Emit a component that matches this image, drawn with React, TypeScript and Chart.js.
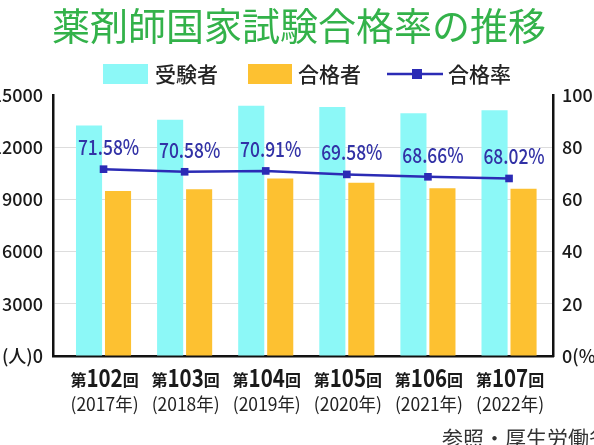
import React, { useEffect, useRef } from "react";
import { Chart, registerables } from "chart.js";

Chart.register(...registerables);

const roundLabels = ["第102回", "第103回", "第104回", "第105回", "第106回", "第107回"];
const yearLabels = ["(2017年)", "(2018年)", "(2019年)", "(2020年)", "(2021年)", "(2022年)"];
const examinees = [13243, 13579, 14376, 14311, 13958, 14124];
const passers = [9479, 9584, 10194, 9958, 9634, 9607];
const passRates = [71.58, 70.58, 70.91, 69.58, 68.66, 68.02];
const leftTicks = [0, 3000, 6000, 9000, 12000, 15000];
const rightTicks = [0, 20, 40, 60, 80, 100];
const seriesNames = ["受験者", "合格者", "合格率"];
const titleText = "薬剤師国家試験合格率の推移";
const sourceText = "参照・厚生労働省";

const OFF = 20; // canvas is shifted left by this many px
const CW = 644;
const CH = 445;
const FONT = '"Noto Sans CJK JP", "Noto Sans", sans-serif';

const CYAN = "#8cf8f7";
const ORANGE = "#fdc131";
const LINE = "#2b2bb5";
const LABEL = "#3232a6";

const drawPlugin = {
  id: "customDraw",
  afterDatasetsDraw(chart: any) {
    const ctx = chart.ctx;
    const meta = chart.getDatasetMeta(2);
    ctx.save();
    ctx.fillStyle = LABEL;
    ctx.font = `500 21px ${FONT}`;
    ctx.textAlign = "center";
    ctx.textBaseline = "middle";
    meta.data.forEach((pt: any, i: number) => {
      const t = passRates[i].toFixed(2) + "%";
      ctx.save();
      ctx.translate(pt.x + 5, pt.y - 22);
      ctx.scale(0.83, 1);
      ctx.fillText(t, 0, 0);
      ctx.restore();
    });
    ctx.restore();
  },
  afterDraw(chart: any) {
    const ctx = chart.ctx;
    const xs = chart.scales.x;
    ctx.save();
    // title
    ctx.fillStyle = "#33b24a";
    ctx.font = `38px ${FONT}`;
    ctx.textAlign = "center";
    ctx.textBaseline = "middle";
    ctx.fillText(titleText, 299 + OFF, 26);

    // legend
    const ly = 74;
    ctx.textAlign = "left";
    ctx.font = `500 21px ${FONT}`;
    ctx.fillStyle = CYAN;
    ctx.fillRect(103 + OFF, 64, 45, 20);
    ctx.fillStyle = "#222";
    ctx.fillText(seriesNames[0], 155 + OFF, ly);
    ctx.fillStyle = ORANGE;
    ctx.fillRect(248 + OFF, 64, 44, 20);
    ctx.fillStyle = "#222";
    ctx.fillText(seriesNames[1], 298 + OFF, ly);
    ctx.strokeStyle = LINE;
    ctx.lineWidth = 2.5;
    ctx.beginPath();
    ctx.moveTo(387 + OFF, ly);
    ctx.lineTo(443 + OFF, ly);
    ctx.stroke();
    ctx.fillStyle = LINE;
    ctx.fillRect(412 + OFF, ly - 5, 10, 10);
    ctx.fillStyle = "#222";
    ctx.fillText(seriesNames[2], 448 + OFF, ly);

    // x labels
    roundLabels.forEach((lab, i) => {
      const cx = xs.getPixelForValue(i) + 1;
      const a = lab.slice(0, 1);
      const b = lab.slice(1, lab.length - 1);
      const c = lab.slice(lab.length - 1);
      const small = `bold 16px ${FONT}`;
      const big = `bold 25px ${FONT}`;
      const sx = 0.82;
      ctx.font = small;
      const wa = ctx.measureText(a).width;
      const wc = ctx.measureText(c).width;
      ctx.font = big;
      const wb = ctx.measureText(b).width * sx;
      const total = wa + wb + wc;
      let x = cx - total / 2;
      const by = 387;
      ctx.fillStyle = "#1a1a1a";
      ctx.textBaseline = "alphabetic";
      ctx.textAlign = "left";
      ctx.font = small;
      ctx.fillText(a, x, by - 1);
      x += wa;
      ctx.save();
      ctx.translate(x, by);
      ctx.scale(sx, 1);
      ctx.font = big;
      ctx.fillText(b, 0, 0);
      ctx.restore();
      x += wb;
      ctx.font = small;
      ctx.fillText(c, x, by - 1);

      // year line
      ctx.font = `18px ${FONT}`;
      ctx.textAlign = "center";
      ctx.textBaseline = "middle";
      ctx.fillStyle = "#222";
      const yl = yearLabels[i];
      const wy = ctx.measureText(yl).width;
      const target = 68;
      const s = Math.min(1, target / wy);
      ctx.save();
      ctx.translate(cx, 404);
      ctx.scale(s, 1);
      ctx.fillText(yl, 0, 0);
      ctx.restore();
    });

    // source
    ctx.font = `21px ${FONT}`;
    ctx.textAlign = "left";
    ctx.textBaseline = "top";
    ctx.fillStyle = "#333";
    ctx.fillText(sourceText, 442 + OFF, 428);
    ctx.restore();
  },
};

export default function App() {
  const ref = useRef<HTMLCanvasElement | null>(null);
  useEffect(() => {
    document.body.style.margin = "0";
    if (!ref.current) return;
    const chart = new Chart(ref.current, {
      type: "bar",
      data: {
        datasets: [
          {
            type: "bar",
            label: seriesNames[0],
            data: examinees.map((v, i) => ({ x: i, y: v })),
            backgroundColor: CYAN,
            yAxisID: "y",
            categoryPercentage: 0.715,
            barPercentage: 0.9,
            order: 1,
          },
          {
            type: "bar",
            label: seriesNames[1],
            data: passers.map((v, i) => ({ x: i, y: v })),
            backgroundColor: ORANGE,
            yAxisID: "y",
            categoryPercentage: 0.715,
            barPercentage: 0.9,
            order: 1,
          },
          {
            type: "line",
            label: seriesNames[2],
            data: passRates.map((v, i) => ({ x: i, y: v })),
            borderColor: LINE,
            backgroundColor: LINE,
            borderWidth: 2.5,
            pointStyle: "rect",
            pointRadius: 5.4,
            pointBackgroundColor: LINE,
            pointBorderWidth: 0,
            yAxisID: "y1",
            order: 0,
          },
        ] as any,
      },
      options: {
        animation: false,
        responsive: false,
        devicePixelRatio: 1,
        layout: { padding: { top: 95, left: 0, right: 0, bottom: 0 } },
        plugins: { legend: { display: false }, tooltip: { enabled: false }, title: { display: false } },
        scales: {
          x: {
            type: "linear",
            min: -0.623,
            max: 5.542,
            offset: false,
            ticks: { display: false },
            grid: { display: false },
            border: { display: true, color: "#111", width: 2.5 },
            afterFit: (s: any) => {
              s.height = CH - 356;
            },
          },
          y: {
            type: "linear",
            position: "left",
            min: leftTicks[0],
            max: leftTicks[leftTicks.length - 1],
            afterBuildTicks: (s: any) => {
              s.ticks = leftTicks.map((v) => ({ value: v }));
            },
            ticks: {
              padding: 10,
              color: "#1a1a1a",
              font: { family: FONT, size: 18, weight: "500" },
              callback: (v: any) => (v === 0 ? "(人)0" : String(v)),
            },
            grid: {
              drawTicks: false,
              color: (c: any) => (c.tick && c.tick.value === 15000 ? "rgba(0,0,0,0)" : "#dddddd"),
              lineWidth: 1,
            },
            border: { display: true, color: "#111", width: 2.5 },
            afterFit: (s: any) => {
              s.width = 53 + OFF;
            },
          },
          y1: {
            type: "linear",
            position: "right",
            min: rightTicks[0],
            max: rightTicks[rightTicks.length - 1],
            afterBuildTicks: (s: any) => {
              s.ticks = rightTicks.map((v) => ({ value: v }));
            },
            ticks: {
              padding: 9,
              color: "#1a1a1a",
              font: { family: FONT, size: 18, weight: "500" },
              callback: (v: any) => (v === 0 ? "0(%)" : String(v)),
            },
            grid: { display: false, drawTicks: false },
            border: { display: true, color: "#111", width: 2.5 },
            afterFit: (s: any) => {
              s.width = CW - (553 + OFF);
            },
          },
        },
      } as any,
      plugins: [drawPlugin],
    });
    return () => chart.destroy();
  }, []);
  return (
    <div style={{ position: "relative", width: 594, height: 445, overflow: "hidden" }}>
      <canvas
        ref={ref}
        width={CW}
        height={CH}
        style={{ position: "absolute", left: -OFF, top: 0, width: CW, height: CH }}
      />
    </div>
  );
}
